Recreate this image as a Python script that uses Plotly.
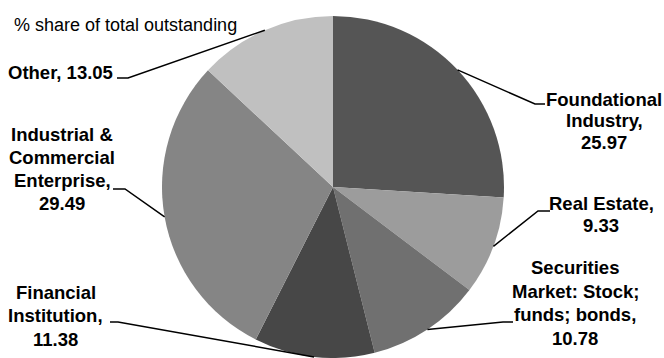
import math
import plotly.graph_objects as go

# ---- data ----
categories = ["Foundational Industry", "Real Estate",
              "Securities Market: Stock; funds; bonds", "Financial Institution",
              "Industrial & Commercial Enterprise", "Other"]
values = [25.97, 9.33, 10.78, 11.38, 29.49, 13.05]
label_name_lines = [["Foundational", "Industry,"], ["Real Estate,"],
                    ["Securities", "Market: Stock;", "funds; bonds,"],
                    ["Financial", "Institution,"],
                    ["Industrial &", "Commercial", "Enterprise,"], ["Other,"]]
value_on_same_line = [False, False, False, False, False, True]
title_text = "% share of total outstanding"

# ---- styling / layout ----
W, H = 664, 358
colors = ["#555555", "#9c9c9c", "#707070", "#474747", "#858585", "#c0c0c0"]
CX, CY, R = 333, 187, 171
FONT = "Liberation Sans, Arial, sans-serif"
FS = 18.5
TITLE_FS = 18

# label layout in pixels: (center x, first-line center y, line pitch, elbow, end)
label_layout = [
    (604, 99, 21.7, (535, 104), (545, 104)),
    (601, 204, 21.5, (538, 211), (550, 211)),
    (575, 267.5, 23.5, (503, 322), (513, 322)),
    (56, 292, 23.5, (118, 322), (110, 322)),
    (62, 134, 23.3, (125, 189), (113, 189)),
    (60, 72, 22, (128, 78), (117, 78)),
]


def px(x):
    return x / W


def py(y):
    return 1 - y / H


fig = go.Figure(go.Pie(
    labels=categories, values=values, sort=False, direction="clockwise",
    rotation=0, marker=dict(colors=colors, line=dict(width=0)),
    textinfo="none", hoverinfo="label+value", showlegend=False,
    domain=dict(x=[px(CX - R), px(CX + R)], y=[py(CY + R), py(CY - R)]),
))

annotations = [dict(text=title_text, x=px(12), y=py(25), xref="paper", yref="paper",
                    xanchor="left", yanchor="middle", showarrow=False,
                    font=dict(family=FONT, size=TITLE_FS, color="#000000"))]
shapes = []
total = sum(values)
cum = 0.0
for i, v in enumerate(values):
    theta = 2 * math.pi * (cum + v / 2) / total
    cum += v
    ex = CX + R * math.sin(theta)
    ey = CY - R * math.cos(theta)
    cx, y0, pitch, elbow, end = label_layout[i]
    lines = list(label_name_lines[i])
    if value_on_same_line[i]:
        lines[-1] = lines[-1] + " " + f"{v:.2f}"
    else:
        lines.append(f"{v:.2f}")
    for k, t in enumerate(lines):
        annotations.append(dict(text=f"<b>{t}</b>", x=px(cx), y=py(y0 + k * pitch),
                                xref="paper", yref="paper", xanchor="center",
                                yanchor="middle", showarrow=False,
                                font=dict(family=FONT, size=FS, color="#000000")))
    path = (f"M {px(ex)} {py(ey)} L {px(elbow[0])} {py(elbow[1])} "
            f"L {px(end[0])} {py(end[1])}")
    shapes.append(dict(type="path", path=path, xref="paper", yref="paper",
                       line=dict(color="#000000", width=1.5)))

fig.update_layout(width=W, height=H, margin=dict(l=0, r=0, t=0, b=0),
                  paper_bgcolor="#ffffff", plot_bgcolor="#ffffff",
                  annotations=annotations, shapes=shapes)
fig.write_html("out.html", config={"displayModeBar": False},
               post_script="document.body.style.margin='0';document.body.style.overflow='hidden';")
